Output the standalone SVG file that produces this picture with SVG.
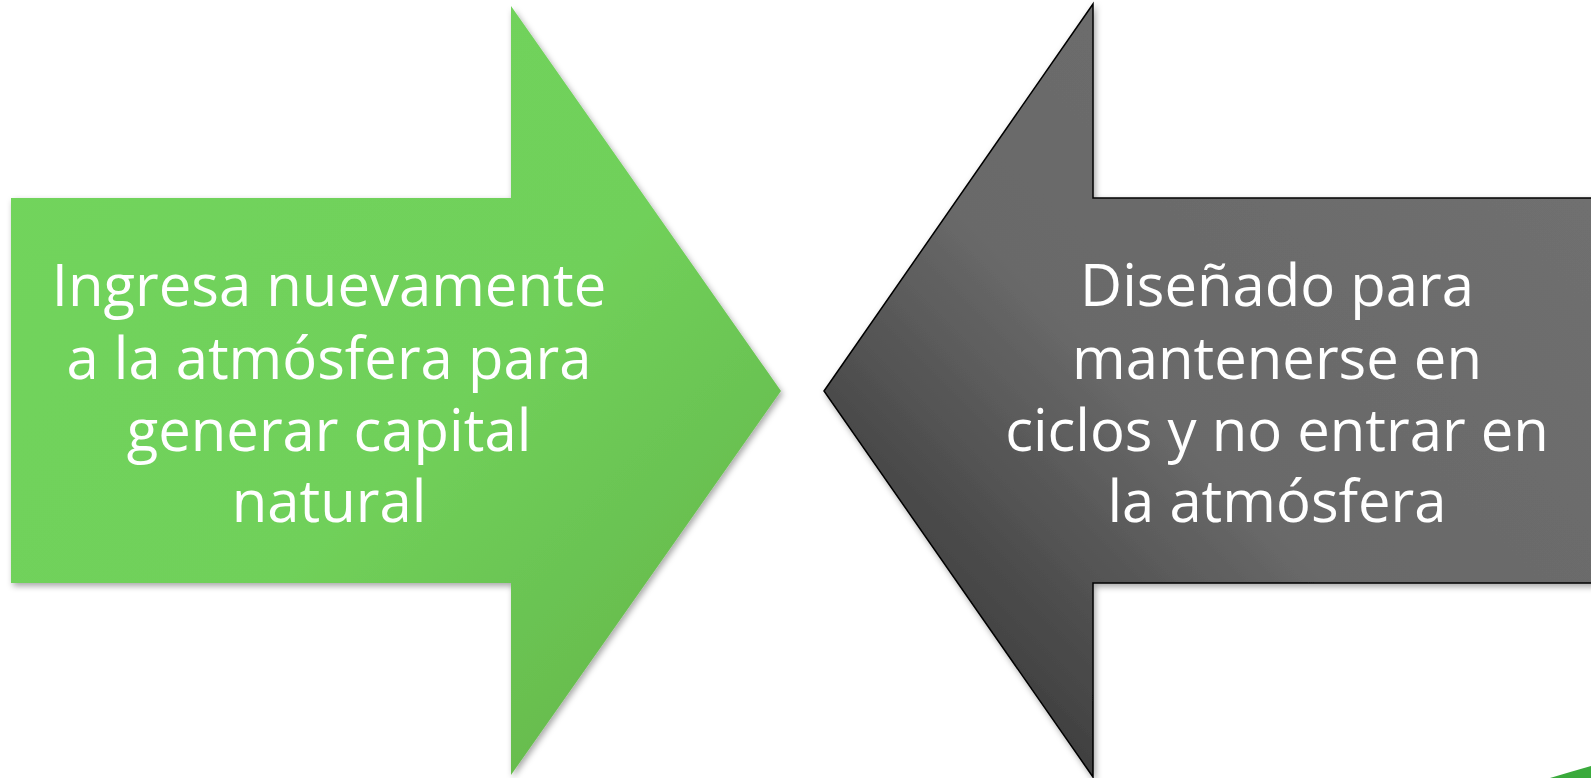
<svg xmlns="http://www.w3.org/2000/svg" width="1591" height="778" viewBox="0 0 1591 778">
  <defs>
    <linearGradient id="gGreen" x1="0" y1="0" x2="1" y2="1">
      <stop offset="0" stop-color="#72d55c"/>
      <stop offset="0.55" stop-color="#70d05a"/>
      <stop offset="1" stop-color="#63b147"/>
    </linearGradient>
    <linearGradient id="gGray" x1="1" y1="0" x2="0" y2="1">
      <stop offset="0" stop-color="#717171"/>
      <stop offset="0.55" stop-color="#696969"/>
      <stop offset="1" stop-color="#262626"/>
    </linearGradient>
    <filter id="shadow" x="-10%" y="-10%" width="120%" height="120%">
      <feDropShadow dx="2" dy="3" stdDeviation="3" flood-color="#000" flood-opacity="0.35"/>
    </filter>
    <style>
      .lbl { font-family: "Open Sans", "Liberation Sans", sans-serif; font-size: 58px; fill: #ffffff; text-anchor: middle; }
    </style>
  </defs>
  <rect width="1591" height="778" fill="#ffffff"/>
  <g id="connectors"></g>
  <g id="node-green">
    <polygon points="11,198 511,198 511,6 781,391 511,775 511,583 11,583" fill="url(#gGreen)" filter="url(#shadow)"/>
    <text class="lbl" x="329" y="306">Ingresa nuevamente</text>
    <text class="lbl" x="329" y="379">a la atmósfera para</text>
    <text class="lbl" x="329" y="451">generar capital</text>
    <text class="lbl" x="329" y="522">natural</text>
  </g>
  <g id="node-gray">
    <polygon points="824,391 1093,4 1093,198 1600,198 1600,583 1093,583 1093,777" fill="url(#gGray)" stroke="#000" stroke-width="1.5" stroke-linejoin="miter" filter="url(#shadow)"/>
    <text class="lbl" x="1277" y="306">Diseñado para</text>
    <text class="lbl" x="1277" y="379">mantenerse en</text>
    <text class="lbl" x="1277" y="451">ciclos y no entrar en</text>
    <text class="lbl" x="1277" y="522">la atmósfera</text>
  </g>
  <g id="corner-shape">
    <path d="M1550,778 Q1570,772 1591,766 L1591,778 Z" fill="#3aaa3c"/>
  </g>
</svg>
